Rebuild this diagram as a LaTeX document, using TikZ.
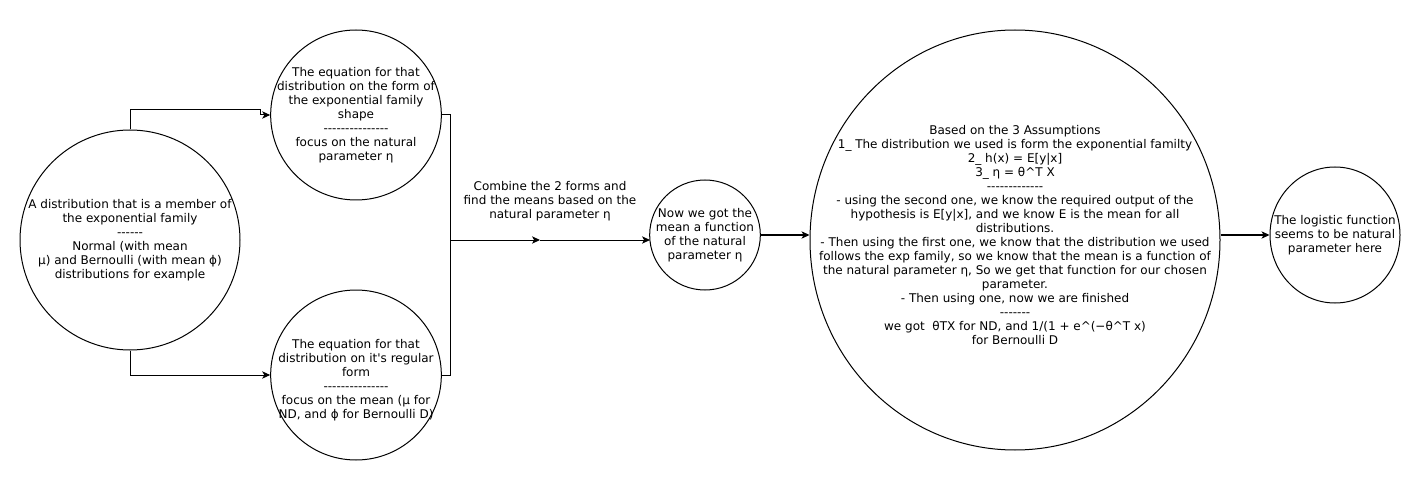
\documentclass[tikz,border=0pt]{standalone}
\usepackage{fontspec}
\setmainfont{DejaVu Sans}[Ligatures=TeXOff]
\usetikzlibrary{arrows.meta,shapes.geometric}
\tikzset{
  shp/.style={draw=black, line width=0.75pt, ellipse, inner sep=0pt},
  txt/.style={align=center, inner sep=0pt, font=\fontsize{9}{10.5}\selectfont},
  conn/.style={draw=black, line width=0.75pt},
  arr/.style={conn, -{Stealth[length=6pt,width=5.5pt,inset=1.6pt]}},
}
\begin{document}
\begin{tikzpicture}[x=0.75pt,y=-0.75pt]
\useasboundingbox (0,0) rectangle (1421,481);
% shapes
\node[shp, minimum width=165pt, minimum height=165pt] (a) at (130,240) {};
\node[shp, minimum width=128pt, minimum height=127.5pt] (b) at (356,115) {};
\node[shp, minimum width=128pt, minimum height=127.5pt] (c) at (356,375) {};
\node[shp, minimum width=83pt, minimum height=82.5pt] (d) at (705,235) {};
\node[shp, minimum width=307.5pt, minimum height=315pt] (e) at (1015,240) {};
\node[shp, minimum width=97.5pt, minimum height=102pt] (f) at (1335,235) {};
% texts
\node[txt] (at) at (130,240) {A distribution that is a member of\\the exponential family\\-{}-{}-{}-{}-{}-\\Normal (with mean\\μ) and Bernoulli (with mean ϕ)\\distributions for example};
\node[txt] (bt) at (356,115) {The equation for that\\distribution on the form of\\the exponential family\\shape\\-{}-{}-{}-{}-{}-{}-{}-{}-{}-{}-{}-{}-{}-{}-\\focus on the natural\\parameter η};
\node[txt] (ct) at (356,380) {The equation for that\\distribution on it's regular\\form\\-{}-{}-{}-{}-{}-{}-{}-{}-{}-{}-{}-{}-{}-{}-\\focus on the mean (μ for\\ND, and ϕ for Bernoulli D)};
\node[txt] (dt) at (705,235) {Now we got the\\mean a function\\of the natural\\parameter η};
\node[txt] (et) at (1015,235) {Based on the 3 Assumptions\\1\_ The distribution we used is form the exponential familty\\2\_ h(x) = E[y|x]\\3\_ η = θ\textasciicircum T X\\-{}-{}-{}-{}-{}-{}-{}-{}-{}-{}-{}-{}-\\- using the second one, we know the required output of the\\hypothesis is E[y|x], and we know E is the mean for all\\distributions.\\- Then using the first one, we know that the distribution we used\\follows the exp family, so we know that the mean is a function of\\the natural parameter η, So we get that function for our chosen\\parameter.\\- Then using one, now we are finished\\-{}-{}-{}-{}-{}-{}-\\we got\ \ θTX for ND, and 1/(1 + e\textasciicircum(−θ\textasciicircum T x)\\for Bernoulli D};
\node[txt] (ft) at (1335,235) {The logistic function\\seems to be natural\\parameter here};
\node[txt] (lbl) at (550,201) {Combine the 2 forms and\\find the means based on the\\natural parameter η};
% helper coordinates
\coordinate (a1) at (130,110);
\coordinate (a2) at (260,110);
\coordinate (a3) at (260,115);
\coordinate (a4) at (130,375);
\coordinate (j1) at (450,115);
\coordinate (j2) at (450,375);
\coordinate (j) at (450,240);
\coordinate (m) at (540,240);
\coordinate (dw) at (650,240);
% connectors
\draw[arr] (a.north) -- (a1) -- (a2) -- (a3) -- (b.west);
\draw[arr] (a.south) -- (a4) -- (c.west);
\draw[conn] (b.east) -- (j1) -- (j2) -- (c.east);
\draw[arr] (j) -- (m);
\draw[arr] (m) -- (dw);
\draw[arr] (d.east) -- (d.east -| e.west);
\draw[arr] (e.east |- f.west) -- (f.west);
\end{tikzpicture}
\end{document}
